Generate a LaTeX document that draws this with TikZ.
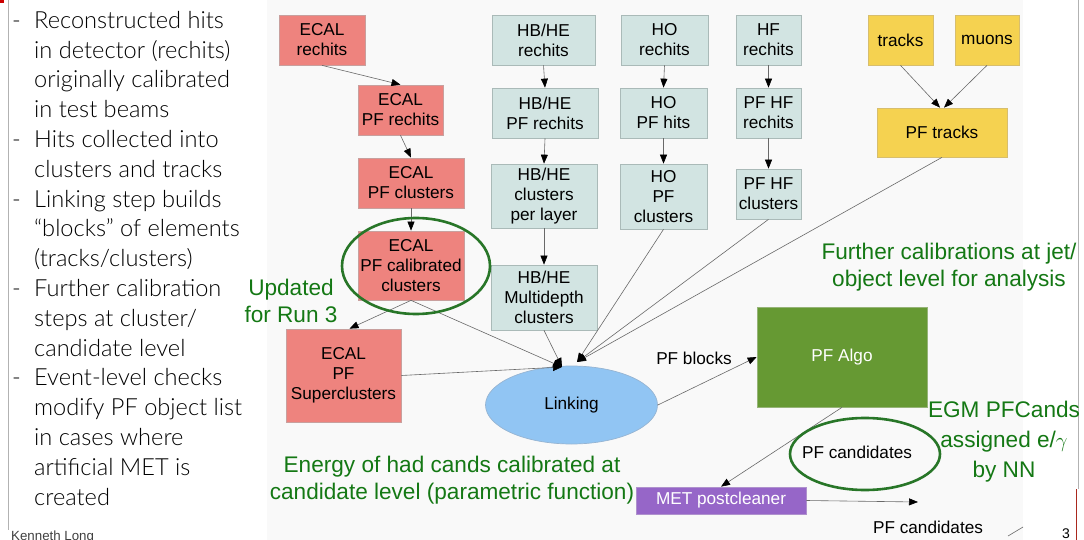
\documentclass[tikz,border=0pt]{standalone}
\usepackage{fontspec}
\setmainfont{Liberation Sans}
\newfontfamily\lightfont{Lato Light}
\usetikzlibrary{arrows.meta,shapes.geometric}

\definecolor{ecalc}{RGB}{238,131,126}
\definecolor{ecalb}{RGB}{200,160,158}
\definecolor{hcalc}{RGB}{210,228,226}
\definecolor{hcalb}{RGB}{170,186,184}
\definecolor{trkc}{RGB}{245,210,80}
\definecolor{trkb}{RGB}{215,190,110}
\definecolor{algoc}{RGB}{102,153,51}
\definecolor{algob}{RGB}{150,180,120}
\definecolor{linkc}{RGB}{145,197,243}
\definecolor{linkb}{RGB}{150,180,210}
\definecolor{metc}{RGB}{150,102,200}
\definecolor{metb}{RGB}{175,145,205}
\definecolor{notec}{RGB}{20,120,20}
\definecolor{ringc}{RGB}{40,118,40}
\definecolor{linec}{RGB}{105,105,105}
\definecolor{panelc}{RGB}{249,249,249}

\begin{document}
\begin{tikzpicture}[x=1pt,y=-1pt,
  boxtext/.style={font=\fontsize{17.2}{20}\selectfont, align=center, inner sep=0pt},
  ecal/.style={boxtext, rectangle, fill=ecalc, draw=ecalb, line width=0.7pt},
  hcal/.style={boxtext, rectangle, fill=hcalc, draw=hcalb, line width=0.7pt},
  trk/.style={boxtext, rectangle, fill=trkc, draw=trkb, line width=0.7pt},
  conn/.style={draw=linec, line width=0.6pt},
  arr/.style={conn, -{Triangle[length=9pt,width=7pt,color=black]}},
  note/.style={font=\fontsize{22.6}{27}\selectfont, text=notec, align=center, inner sep=0pt},
  ring/.style={draw=ringc, line width=2.6pt, ellipse, inner sep=0pt},
  bullet/.style={font=\lightfont\fontsize{23.6}{29.8}\selectfont, anchor=base west, inner sep=0pt}
]
\useasboundingbox (0,0) rectangle (1084,540);
\fill[white] (0,0) rectangle (1084,540);
\fill[panelc] (267,0) rectangle (1023,540);

% page edges
\draw[draw=gray!60, line width=0.8pt] (8,0) -- (8,530);
\draw[draw=gray!60, line width=0.8pt] (1078.5,0) -- (1078.5,489);
\draw[draw={rgb,255:red,170;green,40;blue,30}, line width=1.6pt] (1076.5,489) -- (1076.5,540);
\fill[red!80!black] (0,0) rectangle (4,3);

% bullet list
\foreach \t [count=\i] in {
  {\makebox[22pt][l]{-}Reconstructed hits},
  {\hspace*{22pt}in detector (rechits)},
  {\hspace*{22pt}originally calibrated},
  {\hspace*{22pt}in test beams},
  {\makebox[22pt][l]{-}Hits collected into},
  {\hspace*{22pt}clusters and tracks},
  {\makebox[22pt][l]{-}Linking step builds},
  {\hspace*{22pt}“blocks” of elements},
  {\hspace*{22pt}(tracks/clusters)},
  {\makebox[22pt][l]{-}Further calibration},
  {\hspace*{22pt}steps at cluster/},
  {\hspace*{22pt}candidate level},
  {\makebox[22pt][l]{-}Event-level checks},
  {\hspace*{22pt}modify PF object list},
  {\hspace*{22pt}in cases where},
  {\hspace*{22pt}artificial MET is},
  {\hspace*{22pt}created}}
  \node[bullet] (item\i) at (12, 28.3+29.8*\i-29.8) {\t};

\node[font=\fontsize{13.3}{15}\selectfont, anchor=base west, inner sep=0pt, text=black!75] (author) at (11,540) {Kenneth Long};
\node[font=\fontsize{14}{16}\selectfont, anchor=base, inner sep=0pt] (pageno) at (1066,538) {3};

% ECAL chain
\node[ecal, minimum width=86pt, minimum height=50pt] (ecalrh) at (322,40) {ECAL\\rechits};
\node[ecal, minimum width=85pt, minimum height=50pt] (ecalpfrh) at (400.5,110) {ECAL\\PF rechits};
\node[ecal, minimum width=106pt, minimum height=50pt] (ecalpfcl) at (411,183) {ECAL\\PF clusters};
\node[ecal, minimum width=106pt, minimum height=69pt] (ecalcal) at (411,265.5) {ECAL\\PF calibrated\\clusters};
\node[ecal, minimum width=115pt, minimum height=93pt] (ecalsc) at (343.5,375.5) {ECAL\\PF\\Superclusters};

% HB/HE chain
\node[hcal, minimum width=103pt, minimum height=50pt] (hbrh) at (543.5,40) {HB/HE\\rechits};
\node[hcal, minimum width=106pt, minimum height=50pt] (hbpfrh) at (545,113) {HB/HE\\PF rechits};
\node[hcal, minimum width=106pt, minimum height=64pt] (hbcl) at (544,196) {HB/HE\\clusters\\per layer};
\node[hcal, minimum width=106pt, minimum height=65pt] (hbmd) at (544,297.5) {HB/HE\\Multidepth\\clusters};

% HO chain
\node[hcal, minimum width=87pt, minimum height=50pt] (horh) at (664.5,40) {HO\\rechits};
\node[hcal, minimum width=87pt, minimum height=50pt] (hopf) at (663.5,113) {HO\\PF hits};
\node[hcal, minimum width=87pt, minimum height=65pt] (hocl) at (663.5,196.5) {HO\\PF\\clusters};

% HF chain
\node[hcal, minimum width=65pt, minimum height=50pt] (hfrh) at (768.5,40) {HF\\rechits};
\node[hcal, minimum width=65pt, minimum height=50pt] (hfpfrh) at (768.5,113) {PF HF\\rechits};
\node[hcal, minimum width=65pt, minimum height=50pt] (hfcl) at (768.5,194) {PF HF\\clusters};

% tracking
\node[trk, minimum width=65pt, minimum height=50pt] (tracks) at (900.5,40) {tracks};
\node[trk, minimum width=64pt, minimum height=50pt] (muons) at (987,40) {muons};
\node[trk, minimum width=130pt, minimum height=49pt] (pftrk) at (942,132.5) {PF tracks};

% linking, algorithm, cleaning
\node[boxtext, ellipse, fill=linkc, draw=linkb, line width=0.7pt, minimum width=172pt, minimum height=78pt] (linking) at (571.5,405) {Linking};
\node[boxtext, rectangle, fill=algoc, draw=algob, line width=0.7pt, text=white, minimum width=170pt, minimum height=100pt] (pfalgo) at (842,357) {PF Algo};
\node[boxtext, rectangle, fill=metc, draw=metb, line width=0.7pt, text=white, minimum width=170pt, minimum height=27pt] (met) at (721,500.5) {MET postcleaner};

\coordinate (tipA) at (562,367);
\coordinate (tipB) at (577,362);
\coordinate (pfout) at (918,502);

% connectors
\draw[arr] (ecalrh.south) -- (ecalpfrh.north);
\draw[arr] (ecalpfrh.south) -- (ecalpfcl.north);
\draw[arr] (ecalpfcl.south) -- (ecalcal.north);
\draw[arr] (ecalcal.south) -- ([xshift=6pt]ecalsc.north);
\draw[arr] (hbrh.south) -- (hbpfrh.north);
\draw[arr] (hbpfrh.south) -- (hbcl.north);
\draw[arr] (hbcl.south) -- (hbmd.north);
\draw[arr] (horh.south) -- (hopf.north);
\draw[arr] (hopf.south) -- (hocl.north);
\draw[arr] (hfrh.south) -- (hfpfrh.north);
\draw[arr] (hfpfrh.south) -- (hfcl.north);
\draw[arr] (tracks.south) -- ([xshift=-2pt]pftrk.north);
\draw[arr] (muons.south) -- ([xshift=2pt]pftrk.north);

\draw[arr] (ecalcal.south) -- (tipA);
\draw[arr] (ecalsc.east) -- (tipA);
\draw[arr] (hbmd.south) -- (tipA);
\draw[arr] (hocl.south) -- (tipB);
\draw[arr] (hfcl.south) -- (tipB);
\draw[arr] (pftrk.south) -- (tipB);

\draw[arr] (linking.east) -- (pfalgo.west);
\draw[arr] (pfalgo.south) -- (met.north);
\draw[arr] (met.east) -- (pfout);
\draw[conn] (1008,536) -- (1023,527);

% edge labels
\node[boxtext] (lblocks) at (694,358) {PF blocks};
\node[boxtext] (lcands) at (857,452) {PF candidates};
\node[boxtext] (lcandsout) at (928,527) {PF candidates};

% highlights
\node[ring, minimum width=148pt, minimum height=96pt] (ring1) at (416,266) {};
\node[ring, minimum width=150pt, minimum height=72pt] (ring2) at (865,454) {};

% notes
\node[note] (nrun3) at (291,301) {Updated\\for Run 3};
\node[note] (njet) at (949,267.5) {Further calibrations at jet/\\object level for analysis};
\node[note] (nhad) at (452,480) {Energy of had cands calibrated at\\candidate level (parametric function)};
\node[note, font=\fontsize{22.6}{30}\selectfont] (negm) at (1004,442) {EGM PFCands\\assigned e/$\gamma$\\by NN};
\end{tikzpicture}
\end{document}
